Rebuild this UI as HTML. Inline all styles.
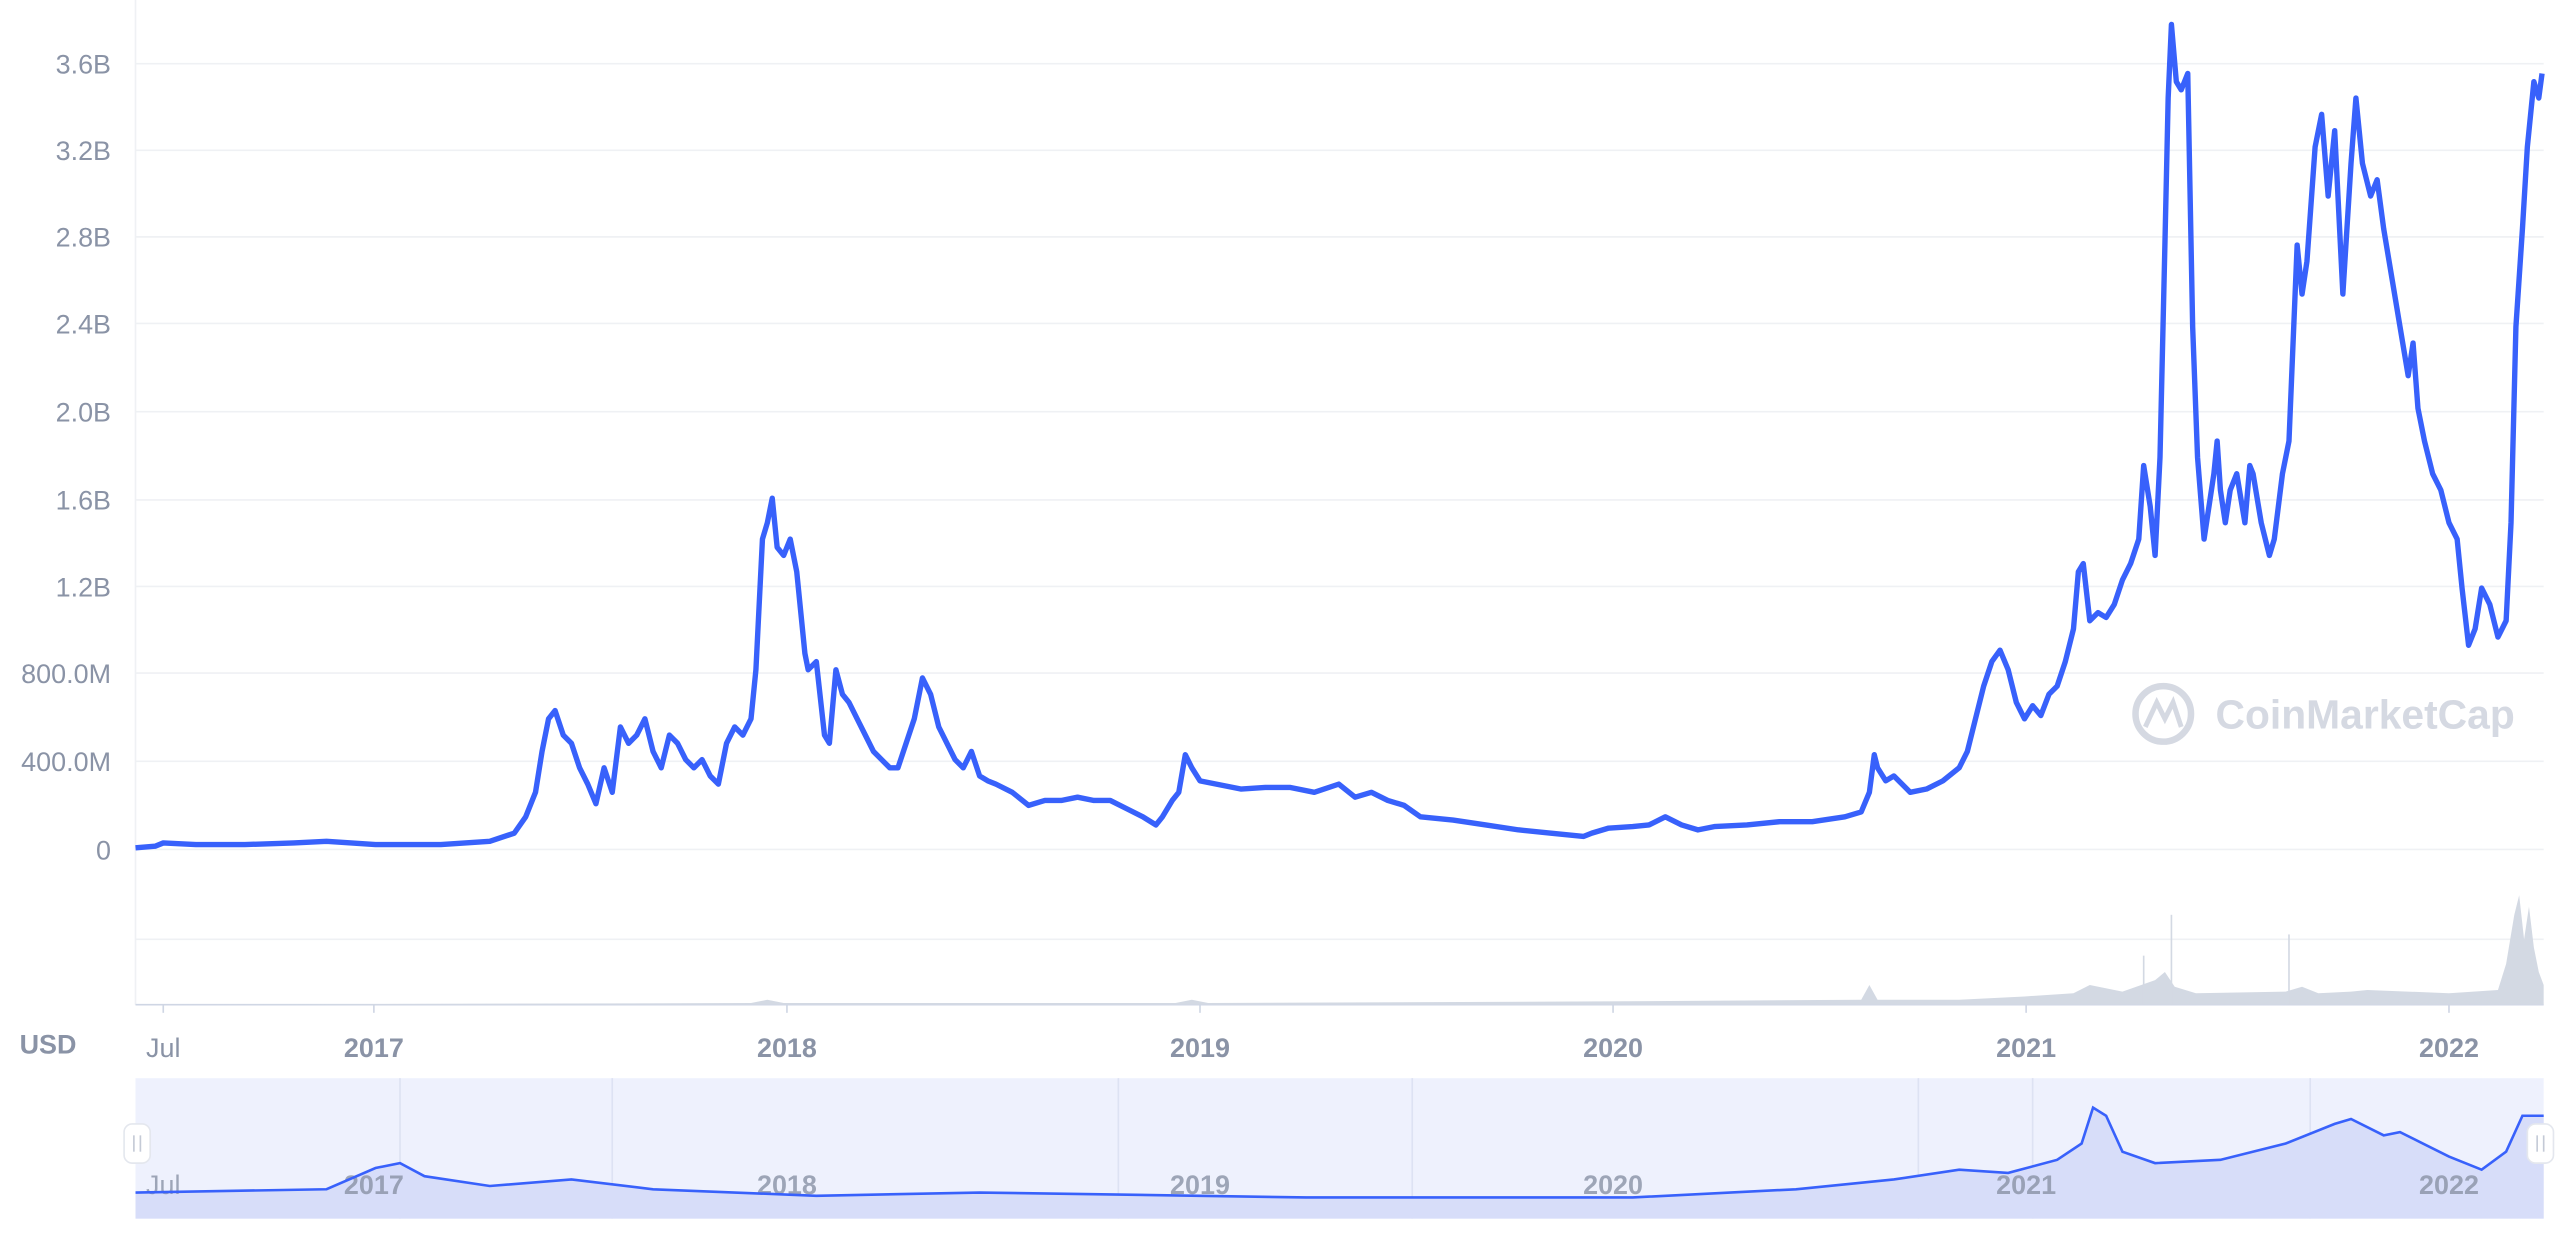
<!DOCTYPE html>
<html><head><meta charset="utf-8"><style>
html,body{margin:0;padding:0;background:#fff;}
svg{display:block;}
text{font-family:"Liberation Sans",sans-serif;fill:#8a93a6;}
</style></head><body>
<svg width="2560" height="1235" viewBox="0 0 1568 756" preserveAspectRatio="none" xmlns="http://www.w3.org/2000/svg">
<g stroke="#eff1f4" stroke-width="1">
<line x1="83" y1="39" x2="1558" y2="39"/><line x1="83" y1="92" x2="1558" y2="92"/>
<line x1="83" y1="145" x2="1558" y2="145"/><line x1="83" y1="198" x2="1558" y2="198"/>
<line x1="83" y1="252" x2="1558" y2="252"/><line x1="83" y1="306" x2="1558" y2="306"/>
<line x1="83" y1="359" x2="1558" y2="359"/><line x1="83" y1="412" x2="1558" y2="412"/>
<line x1="83" y1="466" x2="1558" y2="466"/><line x1="83" y1="520" x2="1558" y2="520"/>
<line x1="83" y1="575" x2="1558" y2="575"/>
<line x1="83" y1="0" x2="83" y2="615"/>
</g>
<line x1="83" y1="615" x2="1558" y2="615" stroke="#cfd6e4" stroke-width="1"/>
<g font-size="16.5" text-anchor="end">
<text x="68" y="45">3.6B</text><text x="68" y="98">3.2B</text><text x="68" y="151">2.8B</text>
<text x="68" y="204">2.4B</text><text x="68" y="258">2.0B</text><text x="68" y="312">1.6B</text>
<text x="68" y="365">1.2B</text><text x="68" y="418">800.0M</text><text x="68" y="472">400.0M</text>
<text x="68" y="526">0</text>
</g>
<text x="12" y="645" font-size="16.5" font-weight="bold">USD</text>
<g font-size="16.5" font-weight="bold" text-anchor="middle">
<text x="100" y="647" font-weight="normal">Jul</text><text x="229" y="647">2017</text><text x="482" y="647">2018</text>
<text x="735" y="647">2019</text><text x="988" y="647">2020</text><text x="1241" y="647">2021</text><text x="1500" y="647">2022</text>
</g>
<g stroke="#cfd6e4" stroke-width="1">
<line x1="100" y1="615" x2="100" y2="620"/><line x1="229" y1="615" x2="229" y2="620"/><line x1="482" y1="615" x2="482" y2="620"/>
<line x1="735" y1="615" x2="735" y2="620"/><line x1="988" y1="615" x2="988" y2="620"/><line x1="1241" y1="615" x2="1241" y2="620"/><line x1="1500" y1="615" x2="1500" y2="620"/>
</g>
<!-- volume -->
<path d="M83 615 L460 614 L470 612 L480 614 L720 614 L730 612 L740 614 L980 613 L1140 612 L1145 603 L1150 612 L1200 612 L1240 610 L1270 608 L1280 603 L1300 607 L1320 600 L1326 595 L1332 604 L1345 608 L1400 607 L1410 604 L1420 608 L1440 607 L1450 606 L1500 608 L1530 606 L1535 590 L1540 560 L1543 548 L1546 575 L1549 555 L1552 580 L1555 595 L1558 603 L1558 615 Z" fill="#d3d9e3"/>
<line x1="1402" y1="615" x2="1402" y2="572" stroke="#d3d9e3" stroke-width="1"/>
<line x1="1330" y1="615" x2="1330" y2="560" stroke="#d3d9e3" stroke-width="1"/>
<line x1="1313" y1="615" x2="1313" y2="585" stroke="#d3d9e3" stroke-width="1"/>
<!-- watermark -->
<circle cx="1325" cy="437" r="17" fill="none" stroke="#d5d9e2" stroke-width="4"/>
<path d="M1314 445 L1321 430 L1326 440 L1331 430 L1336 445" fill="none" stroke="#d5d9e2" stroke-width="3"/>
<text x="1357" y="446" font-size="25" font-weight="bold" style="fill:#d5d9e2">CoinMarketCap</text>
<!-- main line -->
<polyline fill="none" stroke="#3861fb" stroke-width="3.3" stroke-linejoin="round" points="83,519 95,518 100,516 120,517 150,517 180,516 200,515 230,517 270,517 300,515 315,510 322,500 328,485 332,460 336,440 340,435 345,450 350,455 355,470 360,480 365,492 370,470 375,485 380,445 385,455 390,450 395,440 400,460 405,470 410,450 415,455 420,465 425,470 430,465 435,475 440,480 445,455 450,445 455,450 460,440 463,410 467,330 470,320 473,305 476,335 480,340 484,330 488,350 490,370 493,400 495,410 500,405 505,450 508,455 512,410 516,425 520,430 525,440 530,450 535,460 540,465 545,470 550,470 555,455 560,440 565,415 570,425 575,445 580,455 585,465 590,470 595,460 600,475 605,478 610,480 620,485 630,493 640,490 650,490 660,488 670,490 680,490 690,495 700,500 708,505 712,500 718,490 722,485 726,462 730,470 735,478 745,480 760,483 775,482 790,482 805,485 820,480 830,488 840,485 850,490 860,493 870,500 890,502 910,505 930,508 950,510 970,512 975,510 985,507 1000,506 1010,505 1020,500 1030,505 1040,508 1050,506 1070,505 1090,503 1110,503 1130,500 1140,497 1145,485 1148,462 1150,470 1155,478 1160,475 1170,485 1180,483 1190,478 1200,470 1205,460 1210,440 1215,420 1220,405 1225,398 1230,410 1235,430 1240,440 1245,432 1250,438 1255,425 1260,420 1265,405 1270,385 1273,350 1276,345 1280,380 1285,375 1290,378 1295,370 1300,355 1305,345 1310,330 1313,285 1317,310 1320,340 1323,280 1326,150 1328,60 1330,15 1333,50 1336,55 1340,45 1343,200 1346,280 1350,330 1353,310 1356,290 1358,270 1360,300 1363,320 1366,300 1370,290 1375,320 1378,285 1380,290 1385,320 1390,340 1393,330 1398,290 1402,270 1407,150 1410,180 1413,160 1418,90 1422,70 1426,120 1430,80 1435,180 1440,100 1443,60 1447,100 1452,120 1456,110 1460,140 1465,170 1470,200 1475,230 1478,210 1481,250 1485,270 1490,290 1495,300 1500,320 1505,330 1508,360 1512,395 1516,385 1520,360 1525,370 1530,390 1535,380 1538,320 1541,200 1545,140 1548,90 1552,50 1555,60 1557,45"/>
<!-- navigator -->
<rect x="83" y="660" width="1475" height="86" fill="#eef1fd"/>
<g stroke="#dde2f3" stroke-width="1">
<line x1="245" y1="660" x2="245" y2="746"/><line x1="375" y1="660" x2="375" y2="746"/><line x1="685" y1="660" x2="685" y2="746"/>
<line x1="865" y1="660" x2="865" y2="746"/><line x1="1175" y1="660" x2="1175" y2="746"/><line x1="1245" y1="660" x2="1245" y2="746"/><line x1="1415" y1="660" x2="1415" y2="746"/>
</g>
<path d="M83 730 L200 728 L230 715 L245 712 L260 720 L300 726 L350 722 L400 728 L500 732 L600 730 L800 733 L1000 733 L1100 728 L1160 722 L1200 716 L1230 718 L1260 710 L1275 700 L1282 678 L1290 683 L1300 705 L1320 712 L1360 710 L1400 700 L1430 688 L1440 685 L1460 695 L1470 693 L1500 708 L1520 716 L1535 705 L1545 683 L1558 683 L1558 746 L83 746 Z" fill="#d7ddf9"/>
<g font-size="16.5" font-weight="bold" text-anchor="middle" style="opacity:0.8">
<text x="100" y="731" font-weight="normal">Jul</text><text x="229" y="731">2017</text><text x="482" y="731">2018</text>
<text x="735" y="731">2019</text><text x="988" y="731">2020</text><text x="1241" y="731">2021</text><text x="1500" y="731">2022</text>
</g>
<polyline fill="none" stroke="#3861fb" stroke-width="1.6" points="83,730 200,728 230,715 245,712 260,720 300,726 350,722 400,728 500,732 600,730 800,733 1000,733 1100,728 1160,722 1200,716 1230,718 1260,710 1275,700 1282,678 1290,683 1300,705 1320,712 1360,710 1400,700 1430,688 1440,685 1460,695 1470,693 1500,708 1520,716 1535,705 1545,683 1558,683"/>
<rect x="76" y="688" width="16" height="24" rx="5" fill="#fff" stroke="#e4e7ee"/>
<rect x="1548" y="688" width="16" height="24" rx="5" fill="#fff" stroke="#e4e7ee"/>
<g stroke="#c4cad6" stroke-width="1"><line x1="82" y1="695" x2="82" y2="705"/><line x1="86" y1="695" x2="86" y2="705"/><line x1="1554" y1="695" x2="1554" y2="705"/><line x1="1558" y1="695" x2="1558" y2="705"/></g>
</svg>
</body></html>
